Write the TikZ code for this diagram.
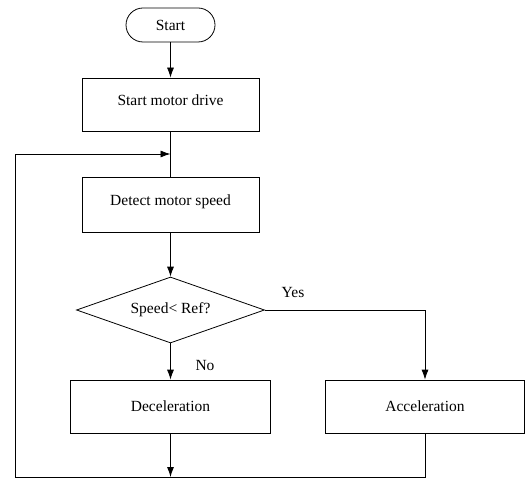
\documentclass[tikz,border=0pt]{standalone}
\usepackage{fontspec}
\setmainfont{Liberation Serif}
\usetikzlibrary{shapes.geometric,arrows.meta}

\tikzset{
  flowbox/.style={draw, rectangle, inner sep=0pt, font=\fontsize{15.5}{17}\selectfont},
  flowterm/.style={draw, rectangle, rounded corners=17pt, inner sep=0pt, minimum width=89pt, minimum height=34pt, font=\fontsize{15.5}{17}\selectfont},
  flowtest/.style={draw, diamond, inner sep=0pt, aspect=2.8, minimum width=188pt, minimum height=66pt, font=\fontsize{15.5}{17}\selectfont},
  flowlabel/.style={font=\fontsize{15.5}{17}\selectfont},
}

\begin{document}
\begin{tikzpicture}[x=1pt, y=-1pt, line width=0.8pt, >={Latex[length=10pt,width=7pt]}]

\useasboundingbox (0,0) rectangle (527,478);

\node[flowterm] (start) at (170.5,25) {Start};
\node[flowbox, minimum width=177pt, minimum height=53pt, text depth=8pt] (drive) at (170.5,104.5) {Start motor drive};
\node[flowbox, minimum width=177pt, minimum height=55pt, text depth=8pt] (detect) at (170.5,204.5) {Detect motor speed};
\node[flowtest] (check) at (170.5,310) {Speed< Ref?};
\node[flowbox, minimum width=200pt, minimum height=53pt] (decel) at (170.5,406.5) {Deceleration};
\node[flowbox, minimum width=199pt, minimum height=53pt] (accel) at (425,406.5) {Acceleration};

\node[flowlabel] (yes) at (293,293) {Yes};
\node[flowlabel] (no) at (205,365) {No};

\coordinate (join) at (170.5,154);
\coordinate (loopleft) at (15,154);
\coordinate (bottommid) at (170.5,477);
\coordinate (bottomleft) at (15,477);
\coordinate (bottomright) at (425,477);
\coordinate (yesturn) at (425,310);

\draw [->] (start) -- (drive);
\draw (drive) -- (detect);
\draw [->] (detect) -- (check);
\draw [->] (check) -- (decel);
\draw [->] (check.east) -- (yesturn) -- (accel);
\draw [->] (decel) -- (bottommid);
\draw [->] (accel) -- (bottomright) -- (bottomleft) -- (loopleft) -- (join);

\end{tikzpicture}
\end{document}
